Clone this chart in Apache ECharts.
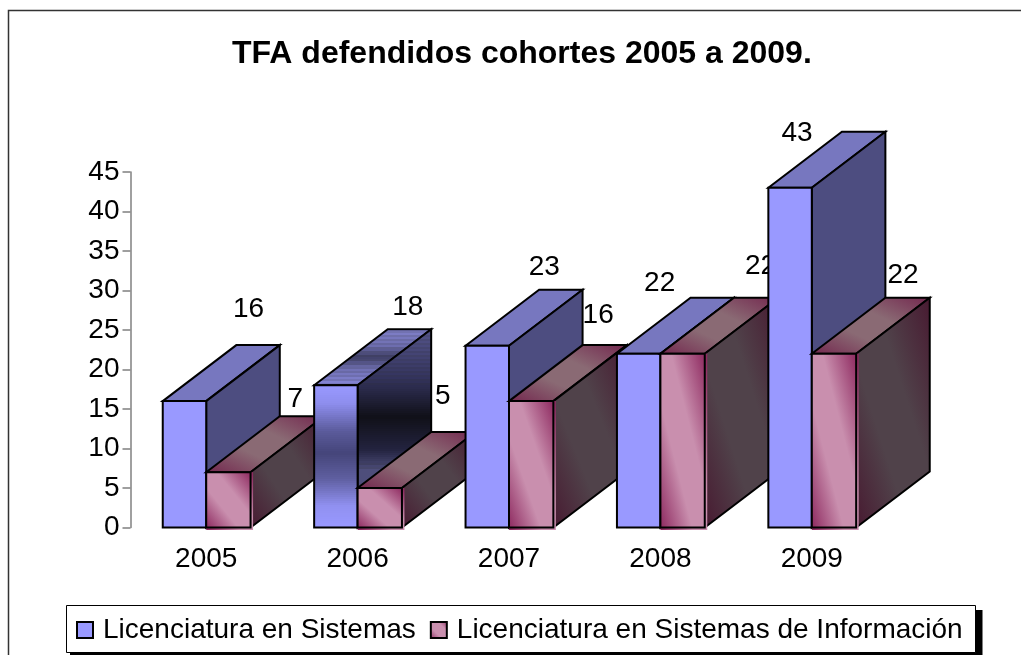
<!DOCTYPE html>
<html>
<head>
<meta charset="utf-8">
<style>html,body{margin:0;padding:0;background:#fff;overflow:hidden}#chart{width:1021px;height:655px}</style>
<script src="https://cdn.jsdelivr.net/npm/echarts@6/dist/echarts.min.js"></script>
</head>
<body>
<div id="chart"></div>
<script>
const titleText = 'TFA defendidos cohortes 2005 a 2009.';
const categories = ['2005', '2006', '2007', '2008', '2009'];
const sistemas = [16, 18, 23, 22, 43];
const sistemasInformacion = [7, 5, 16, 22, 22];
const seriesNames = ['Licenciatura en Sistemas', 'Licenciatura en Sistemas de Información'];

// Hand-placed data labels of the original: shift from the bar's top centre, in px.
const labelShift = [
  [[64, -92], [72, -78], [57, -79], [21, -70], [7, -55]],
  [[67, -73], [63, -92], [67, -86], [78, -87], [69, -78]]
];
const FONT = '"Liberation Sans", Arial, sans-serif';
const BAND_CATEGORY = 1;   // 2006's first bar is rendered with a banded fill

const G = echarts.graphic;

function hex(c) { return [1, 3, 5].map(i => parseInt(c.substr(i, 2), 16)); }
function mix(a, b, t) {
  const p = hex(a), q = hex(b);
  return 'rgb(' + p.map((v, i) => Math.round(v + (q[i] - v) * t)).join(',') + ')';
}
// Office-style scaled diagonal: iso-lines parallel to the box's TL-BR diagonal.
function diag(x, y, w, h, edge, mid) {
  const d = Math.hypot(w, h), nx = h / d, ny = -w / d, L = w * h / d;
  const cx = x + w / 2, cy = y + h / 2;
  return new G.LinearGradient(cx - nx * L, cy - ny * L, cx + nx * L, cy + ny * L, [
    { offset: 0, color: edge }, { offset: 0.36, color: mid },
    { offset: 0.62, color: mid }, { offset: 1, color: edge }
  ], true);
}
function bandFill(y0, y1, keys, stripe) {
  const stops = [], n = Math.round((y1 - y0) / 2);
  function colorAt(t) {
    for (let i = 1; i < keys.length; i++) {
      if (t <= keys[i][0]) {
        return mix(keys[i - 1][1], keys[i][1], (t - keys[i - 1][0]) / (keys[i][0] - keys[i - 1][0]));
      }
    }
    return keys[keys.length - 1][1];
  }
  for (let i = 0; i < n; i++) {
    const t0 = i / n, t1 = (i + 1) / n;
    let c = colorAt((t0 + t1) / 2);
    if (stripe && stripe(y0 + (y1 - y0) * t0) && i % 2) {
      const m = c.match(/\d+/g).map(Number).map(v => Math.min(255, Math.round(v * 0.86 + 6)));
      c = 'rgb(' + m.join(',') + ')';
    }
    stops.push({ offset: t0, color: c }, { offset: t1, color: c });
  }
  return new G.LinearGradient(0, y0, 0, y1, stops, true);
}
const EDGE = { stroke: '#000', lineWidth: 2, lineJoin: 'miter' };

function boxRenderer(seriesIdx) {
  return function (params, api) {
    const cat = api.value(0), val = api.value(1);
    const catW = api.size([1, 0])[0];
    const w = catW * (seriesIdx === 0 ? 0.287 : 0.293), dx = catW * 0.486, dy = 56;
    const centre = api.coord([cat, 0])[0];
    const x = seriesIdx === 0 ? centre - w : centre;
    const y0 = api.coord([cat, 0])[1], y = api.coord([cat, val])[1];
    const h = y0 - y, z = cat * 100 + seriesIdx * 10;
    let front, top, side;
    const topPts = [[x, y], [x + dx, y - dy], [x + w + dx, y - dy], [x + w, y]];
    const sidePts = [[x + w, y], [x + w + dx, y - dy], [x + w + dx, y0 - dy], [x + w, y0]];
    if (seriesIdx === 0) {
      front = '#9999FF'; top = '#7777BF'; side = '#4D4D80';
      if (cat === BAND_CATEGORY) {
        front = bandFill(y, y0, [[0, '#9999FF'], [0.13, '#8E8EEE'], [0.33, '#5A5A9A'], [0.48, '#45457A'], [0.66, '#5F5FA0'], [0.85, '#9090F0'], [1, '#9999FF']]);
        top = bandFill(y - dy, y, [[0, '#8282CC'], [0.3, '#6E6EB0'], [0.5, '#3F3F66'], [0.7, '#6E6EB0'], [1, '#8686D8']], () => true);
        side = bandFill(y - dy, y0 - dy + 0, [[0, '#55558C'], [0.35, '#33335C'], [0.62, '#101018'], [0.85, '#23233F'], [1, '#50507E']],
          py => py < y || py > y0 - 68);
      }
    } else {
      front = diag(x, y, w, h, '#8E2A60', '#C98FAE');
      top = diag(x, y - dy, w + dx, dy, '#74284F', '#8A6A74');
      side = diag(x + w, y - dy, dx, h + dy, '#481A31', '#50424A');
    }
    const children = [
      { type: 'polygon', z2: z, shape: { points: topPts }, style: Object.assign({ fill: top }, EDGE) },
      { type: 'polygon', z2: z + 1, shape: { points: sidePts }, style: Object.assign({ fill: side }, EDGE) }
    ];
    if (seriesIdx === 1) {
      children.push({ type: 'rect', z2: z + 2, shape: { x: x, y: y, width: w + 2.5, height: h + 2.5 },
        style: { fill: front } });
    }
    children.push({ type: 'rect', z2: z + 3, shape: { x: x, y: y, width: w, height: h },
      style: Object.assign({ fill: front }, EDGE) });
    const s = labelShift[seriesIdx][cat];
    children.push({ type: 'text', z2: z + 4, style: {
      text: String(val), x: x + w / 2 + s[0], y: y + s[1],
      fill: '#000', font: '28px ' + FONT, align: 'center', verticalAlign: 'middle' } });
    return { type: 'group', children: children };
  };
}

const chart = echarts.init(document.getElementById('chart'), null, { renderer: 'canvas' });
chart.setOption({
  animation: false,
  backgroundColor: '#fff',
  title: { text: titleText, left: 232, top: 38, padding: 0,
    textStyle: { fontFamily: FONT, fontWeight: 'bold', fontSize: 32, color: '#000' } },
  grid: { left: 130.5, right: 133.5, top: 172, bottom: 127.5 },
  xAxis: { type: 'category', data: categories, axisLine: { show: false }, axisTick: { show: false },
    axisLabel: { color: '#000', fontFamily: FONT, fontSize: 28, margin: 18 } },
  yAxis: { type: 'value', min: 0, max: 45, interval: 5, splitLine: { show: false },
    axisLine: { show: true, lineStyle: { color: '#808080', width: 1.5 } },
    axisTick: { show: true, length: 8, lineStyle: { color: '#808080', width: 1.5 } },
    axisLabel: { color: '#000', fontFamily: FONT, fontSize: 28, margin: 11 } },
  legend: {
    left: 76, top: 616, orient: 'horizontal', padding: 0,
    itemWidth: 16, itemHeight: 16, itemGap: 14,
    icon: 'rect',
    itemStyle: { borderColor: '#000', borderWidth: 2 },
    textStyle: { color: '#000', fontFamily: FONT, fontSize: 28, padding: [0, 0, 0, 5] },
    data: seriesNames
  },
  graphic: [
    { type: 'polyline', silent: true, z: -1,
      shape: { points: [[8.5, 655], [8.5, 10.5], [1021, 10.5]] },
      style: { stroke: '#333', lineWidth: 1.5, fill: null } },
    { type: 'rect', silent: true, z: -1, shape: { x: 70, y: 610, width: 912.5, height: 45 },
      style: { fill: '#000' } },
    { type: 'rect', silent: true, z: -1, shape: { x: 66.5, y: 605.5, width: 909, height: 47 },
      style: { fill: '#fff', stroke: '#000', lineWidth: 1 } }
  ],
  series: [
    { name: seriesNames[0], type: 'custom', clip: false, silent: true,
      itemStyle: { color: '#9999FF' }, encode: { x: 0, y: 1 },
      renderItem: boxRenderer(0),
      data: sistemas.map((v, i) => [i, v]) },
    { name: seriesNames[1], type: 'custom', clip: false, silent: true,
      itemStyle: { color: new G.LinearGradient(0, 1, 1, 0, [
        { offset: 0, color: '#8E2A60' }, { offset: 0.35, color: '#C98FAE' },
        { offset: 0.7, color: '#C98FAE' }, { offset: 1, color: '#8E2A60' }]) },
      encode: { x: 0, y: 1 },
      renderItem: boxRenderer(1),
      data: sistemasInformacion.map((v, i) => [i, v]) }
  ]
});
</script>
</body>
</html>
